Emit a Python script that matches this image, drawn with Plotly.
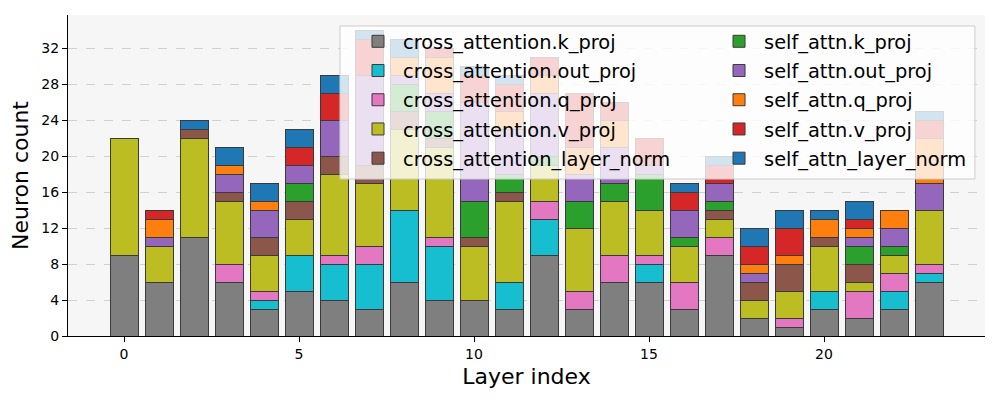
import plotly.graph_objects as go

layers = list(range(24))

series_names = [
    "cross_attention.k_proj",
    "cross_attention.out_proj",
    "cross_attention.q_proj",
    "cross_attention.v_proj",
    "cross_attention_layer_norm",
    "self_attn.k_proj",
    "self_attn.out_proj",
    "self_attn.q_proj",
    "self_attn.v_proj",
    "self_attn_layer_norm",
]

cross_k = [9, 6, 11, 6, 3, 5, 4, 3, 6, 4, 4, 3, 9, 3, 6, 6, 3, 9, 2, 1, 3, 2, 3, 6]
cross_out = [0, 0, 0, 0, 1, 4, 4, 5, 8, 6, 0, 3, 4, 0, 0, 2, 0, 0, 0, 0, 2, 0, 2, 1]
cross_q = [0, 0, 0, 2, 1, 0, 1, 2, 0, 1, 0, 0, 2, 2, 3, 1, 3, 2, 0, 1, 0, 3, 2, 1]
cross_v = [13, 4, 11, 7, 4, 4, 9, 7, 9, 10, 6, 9, 4, 7, 6, 5, 4, 2, 2, 3, 5, 1, 2, 6]
cross_ln = [0, 0, 1, 1, 2, 2, 2, 2, 2, 1, 1, 1, 0, 0, 0, 0, 0, 1, 2, 3, 1, 2, 0, 0]
self_k = [0, 0, 0, 0, 0, 2, 0, 0, 3, 3, 4, 2, 1, 3, 2, 4, 1, 1, 0, 0, 0, 2, 1, 0]
self_out = [0, 1, 0, 2, 3, 2, 4, 10, 1, 2, 11, 5, 7, 3, 4, 1, 3, 2, 1, 0, 0, 1, 2, 3]
self_q = [0, 2, 0, 1, 1, 0, 0, 0, 2, 4, 0, 2, 2, 3, 3, 0, 0, 0, 1, 1, 2, 1, 2, 5]
self_v = [0, 1, 0, 0, 0, 2, 3, 4, 0, 1, 3, 3, 2, 6, 2, 3, 2, 2, 2, 3, 0, 1, 0, 2]
self_ln = [0, 0, 1, 2, 2, 2, 2, 1, 2, 0, 1, 1, 0, 0, 0, 0, 1, 1, 2, 2, 1, 2, 0, 1]

series_values = [cross_k, cross_out, cross_q, cross_v, cross_ln,
                 self_k, self_out, self_q, self_v, self_ln]

colors = ["#7f7f7f", "#17becf", "#e377c2", "#bcbd22", "#8c564b",
          "#2ca02c", "#9467bd", "#ff7f0e", "#d62728", "#1f77b4"]

y_ticks = [0, 4, 8, 12, 16, 20, 24, 28, 32]
x_ticks = [0, 5, 10, 15, 20]

FONT = "DejaVu Sans"

fig = go.Figure()
for i, (name, vals, col) in enumerate(zip(series_names, series_values, colors)):
    fig.add_trace(go.Bar(
        x=layers, y=vals, name=name,
        marker=dict(color=col, line=dict(color="#3a3a3a", width=1)),
        legend="legend" if i < 5 else "legend2",
        legendgroup=name,
    ))

legend_common = dict(
    orientation="v",
    xanchor="left", yanchor="top",
    bgcolor="rgba(0,0,0,0)", borderwidth=0,
    font=dict(family=FONT, size=19.4, color="black"),
    itemwidth=40,
    traceorder="grouped",
    tracegroupgap=1,
)

fig.update_layout(
    barmode="stack",
    bargap=0.2,
    width=984, height=384,
    margin=dict(l=60, r=7, t=7, b=56),
    paper_bgcolor="white",
    plot_bgcolor="#f6f6f6",
    font=dict(family=FONT, color="black", size=14),
    legend=dict(x=0.3108, y=0.9776, **legend_common),
    legend2=dict(x=0.7045, y=0.9776, **legend_common),
    # legend frame (semi-transparent white box behind both legend columns)
    shapes=[dict(
        type="rect", xref="paper", yref="paper",
        x0=0.2966, x1=0.989, y0=0.489, y1=0.9657,
        fillcolor="rgba(255,255,255,0.8)",
        line=dict(color="#cccccc", width=1),
        layer="above",
    )],
    xaxis=dict(
        range=[-1.6, 24.6],
        tickmode="array", tickvals=x_ticks,
        ticks="outside", ticklen=5, tickcolor="black",
        showline=True, linecolor="black", linewidth=1.2,
        showgrid=False, zeroline=False,
        title=dict(text="Layer index", font=dict(family=FONT, size=22), standoff=7),
        tickfont=dict(family=FONT, size=14),
    ),
    yaxis=dict(
        range=[0, 35.67],
        tickmode="array", tickvals=y_ticks,
        ticks="outside", ticklen=5, tickcolor="black",
        showline=True, linecolor="black", linewidth=1.2,
        showgrid=True, gridcolor="#d0d0d0", griddash="dash", gridwidth=1,
        zeroline=False,
        title=dict(text="Neuron count", font=dict(family=FONT, size=22), standoff=10),
        tickfont=dict(family=FONT, size=14),
    ),
)

fig.write_html("out.html")
